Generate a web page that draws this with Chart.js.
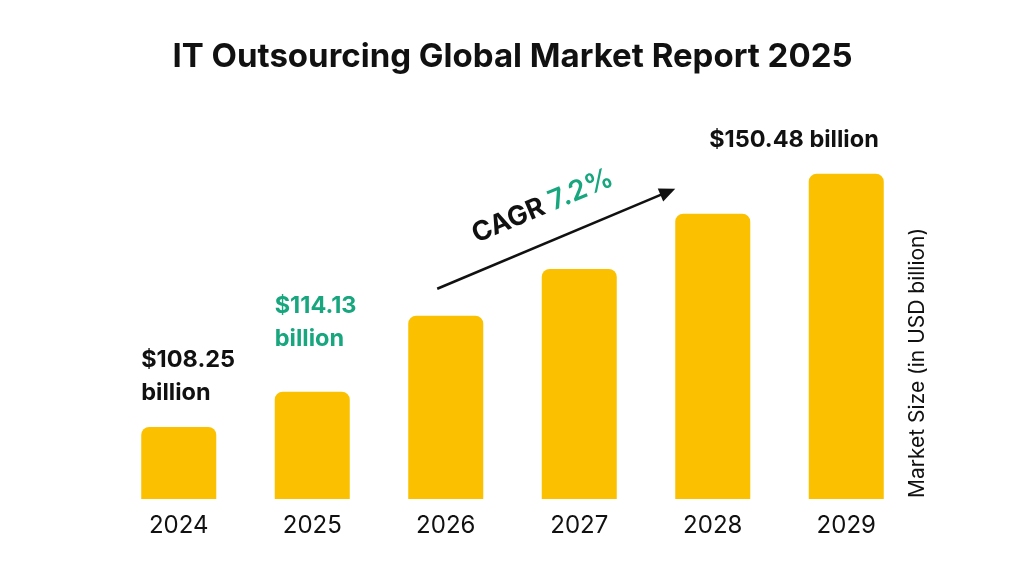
<!DOCTYPE html>
<html>
<head>
<meta charset="utf-8">
<script src="https://cdn.jsdelivr.net/npm/chart.js@4.4.0/dist/chart.umd.min.js"></script>
<style>
  html, body { margin: 0; background: #fff; }
</style>
</head>
<body>
<canvas id="chart" width="1024" height="576"></canvas>
<script>
// data
const years = ['2024', '2025', '2026', '2027', '2028', '2029'];
const marketSize = [108.25, 114.13, 126.8, 134.6, 143.8, 150.48];
const valueLabels = [['$108.25', 'billion'], ['$114.13', 'billion'], null, null, null, ['$150.48 billion']];
const cagrText = 'CAGR';
const cagrValue = '7.2%';
const axisTitle = 'Market Size (in USD billion)';

const BLACK = '#111111';
const GREEN = '#17a67e';
const YELLOW = '#fbc100';
const FONT = 'Inter';

const labelColors = [BLACK, GREEN, BLACK, BLACK, BLACK, BLACK];

const annotations = {
    id: 'annotations',
    afterDatasetsDraw(chart) {
        const ctx = chart.ctx;
        const bars = chart.getDatasetMeta(0).data;
        const area = chart.chartArea;
        // gap between bar top and label baseline
        const gaps = { 0: 60, 1: 79, 5: 27 };

        ctx.save();
        ctx.textBaseline = 'alphabetic';
        ctx.font = '700 23.5px ' + FONT;
        valueLabels.forEach((lines, i) => {
            if (!lines) return;
            const bar = bars[i];
            ctx.fillStyle = labelColors[i];
            if (lines.length === 1) {
                ctx.textAlign = 'right';
                ctx.fillText(lines[0], bar.x + bar.width / 2 - 5, bar.y - gaps[i]);
            } else {
                ctx.textAlign = 'left';
                ctx.fillText(lines[0], bar.x - bar.width / 2, bar.y - gaps[i]);
                ctx.fillText(lines[1], bar.x - bar.width / 2, bar.y - gaps[i] + 33);
            }
        });

        // CAGR arrow from 2026 to 2028
        const b0 = bars[2], b1 = bars[4];
        const sx = b0.x - b0.width / 2 + 29, sy = b0.y - 27;
        const ex = b1.x - b1.width / 2, ey = b1.y - 25;
        const ang = Math.atan2(ey - sy, ex - sx);
        const len = Math.hypot(ex - sx, ey - sy);
        ctx.translate(sx, sy);
        ctx.rotate(ang);
        ctx.strokeStyle = BLACK;
        ctx.fillStyle = BLACK;
        ctx.lineWidth = 2.5;
        ctx.beginPath();
        ctx.moveTo(0, 0);
        ctx.lineTo(len - 12, 0);
        ctx.stroke();
        ctx.beginPath();
        ctx.moveTo(len, 0);
        ctx.lineTo(len - 16, -7);
        ctx.lineTo(len - 16, 7);
        ctx.closePath();
        ctx.fill();

        ctx.textAlign = 'left';
        ctx.font = '700 27px ' + FONT;
        ctx.fillText(cagrText, 54, -27);
        const w = ctx.measureText(cagrText).width;
        ctx.fillStyle = GREEN;
        ctx.font = '600 28px ' + FONT;
        ctx.fillText(cagrValue, 54 + w + 7, -27);
        ctx.restore();

        // axis title on the right, reading upwards
        ctx.save();
        ctx.translate(area.right + 5, area.bottom - 1);
        ctx.rotate(-Math.PI / 2);
        ctx.font = '400 21px ' + FONT;
        ctx.fillStyle = BLACK;
        ctx.textAlign = 'left';
        ctx.textBaseline = 'middle';
        ctx.fillText(axisTitle, 0, 0);
        ctx.restore();
    }
};

new Chart(document.getElementById('chart'), {
    type: 'bar',
    data: {
        labels: years,
        datasets: [{
            data: marketSize,
            backgroundColor: YELLOW,
            borderRadius: 8,
            borderSkipped: false,
            barPercentage: 0.562,
            categoryPercentage: 1
        }]
    },
    options: {
        responsive: false,
        animation: false,
        layout: { padding: { left: 112, right: 111, top: 0, bottom: 23 } },
        plugins: {
            legend: { display: false },
            tooltip: { enabled: false },
            title: {
                display: true,
                text: 'IT Outsourcing Global Market Report 2025',
                color: BLACK,
                font: { family: FONT, size: 33, weight: '700' },
                padding: { top: 37, bottom: 43 }
            }
        },
        scales: {
            x: {
                grid: { display: false, drawTicks: false },
                border: { display: false },
                ticks: { color: BLACK, padding: 12.6, font: { family: FONT, size: 24, weight: '400' } }
            },
            y: {
                display: false,
                min: 96.25,
                max: 159.5
            }
        }
    },
    plugins: [annotations]
});
</script>
</body>
</html>
